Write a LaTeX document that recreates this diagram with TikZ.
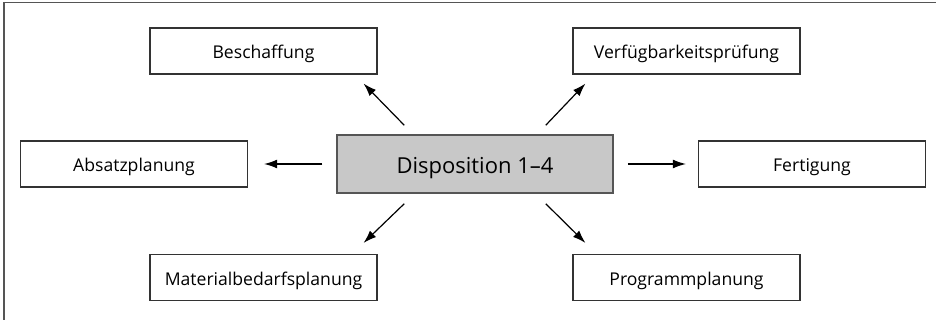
\documentclass[tikz,border=0pt]{standalone}
\usepackage{fontspec}
\setmainfont{Open Sans}
\usetikzlibrary{arrows.meta}
\definecolor{framegray}{HTML}{555555}
\definecolor{boxline}{HTML}{333333}
\definecolor{dispfill}{HTML}{C8C8C8}
\begin{document}
\begin{tikzpicture}[x=0.5pt,y=-0.5pt,
  task/.style={draw=boxline,line width=0.55pt,minimum width=113.5pt,minimum height=23pt,
    inner sep=0pt,text height=7.6pt,text depth=0pt,font=\fontsize{8.8}{10}\selectfont},
  center/.style={draw=framegray,fill=dispfill,line width=0.75pt,minimum width=138pt,
    minimum height=29pt,inner sep=0pt,text height=9.6pt,text depth=0pt,
    font=\fontsize{11}{13}\selectfont},
  arr/.style={line width=0.6pt,-{Latex[length=6.5pt,width=4.4pt]}}]
\useasboundingbox (0,0) rectangle (936,320);
% open frame: only left and top edges are visible
\draw[framegray,line width=0.6pt] (4,320) -- (4,2.5) -- (936,2.5);

\node[center] (disp) at (475,164) {Disposition 1–4};
\node[task] (besch) at (263.5,51) {Beschaffung};
\node[task] (verf)  at (686.5,51) {Verfügbarkeitsprüfung};
\node[task] (absatz) at (134,164) {Absatzplanung};
\node[task] (fert)  at (812,164) {Fertigung};
\node[task] (mat)   at (263.5,277.5) {Materialbedarfsplanung};
\node[task] (prog)  at (686.5,277.5) {Programmplanung};

\draw[arr] ([shift={(68,-9)}]disp.north west) -- ([shift={(-14,9)}]besch.south east);
\draw[arr] ([shift={(-68,-9)}]disp.north east) -- ([shift={(13,9)}]verf.south west);
\draw[arr] ([xshift=-7pt]disp.west) -- ([xshift=8pt]absatz.east);
\draw[arr] ([xshift=7pt]disp.east) -- ([xshift=-6pt]fert.west);
\draw[arr] ([shift={(68,10)}]disp.south west) -- ([shift={(-14,-11)}]mat.north east);
\draw[arr] ([shift={(-68,10)}]disp.south east) -- ([shift={(13,-11)}]prog.north west);
\end{tikzpicture}
\end{document}
